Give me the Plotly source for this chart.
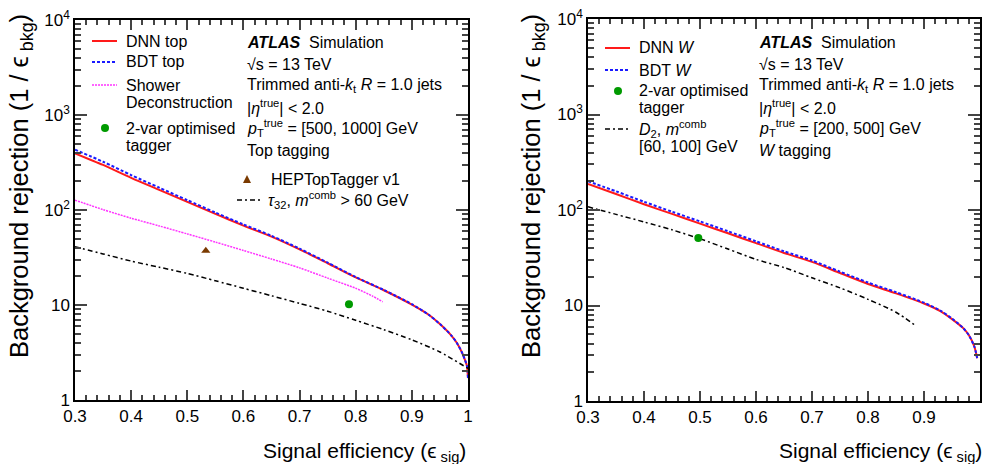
import plotly.graph_objects as go

# ---------------- data ----------------
eff_top = [0.30, 0.35, 0.40, 0.45, 0.50, 0.55, 0.60, 0.65, 0.70, 0.75, 0.80, 0.85,
           0.90, 0.93, 0.95, 0.97, 0.98, 0.99, 0.995, 0.998, 1.0]
dnn_top = [395, 298, 218, 163, 122, 91, 68.5, 52.5, 38.5, 27.5, 19.5, 14.3,
           10.1, 7.9, 6.3, 4.8, 4.0, 3.1, 2.6, 2.3, 1.7]
bdt_top = [432, 322, 233, 172, 127, 94, 70.5, 53.5, 39.2, 27.9, 19.7, 14.4,
           10.2, 7.9, 6.3, 4.8, 4.0, 3.1, 2.6, 2.3, 1.7]

eff_sd = [0.30, 0.35, 0.40, 0.45, 0.50, 0.55, 0.60, 0.65, 0.70, 0.75, 0.80, 0.83, 0.848]
sd_top = [127, 101, 82, 68, 56, 46, 37.5, 30.5, 24.6, 19.2, 15.0, 12.4, 10.8]

eff_tau = [0.30, 0.35, 0.40, 0.45, 0.50, 0.55, 0.60, 0.65, 0.70, 0.75, 0.80, 0.85, 0.90, 0.95, 1.0]
tau_top = [41, 34.5, 29, 25, 21.5, 18, 15, 12.5, 10.4, 8.6, 6.9, 5.5, 4.3, 3.2, 2.15]

hep_eff = [0.533]
hep_rej = [37.3]
opt_top_eff = [0.788]
opt_top_rej = [10.2]

eff_w = [0.30, 0.35, 0.40, 0.45, 0.50, 0.55, 0.60, 0.65, 0.70, 0.75, 0.80, 0.85,
         0.90, 0.93, 0.95, 0.97, 0.98, 0.99, 0.995]
dnn_w = [187, 147, 115, 91, 72, 57, 45, 35.5, 28.6, 21.9, 16.8, 13.4,
         10.5, 8.7, 7.2, 5.8, 4.9, 3.7, 2.8]
bdt_w = [200, 157, 122, 96, 76, 60, 47, 37, 29.6, 22.6, 17.4, 13.8,
         10.7, 8.8, 7.3, 5.8, 4.9, 3.7, 2.8]

eff_d2 = [0.30, 0.35, 0.40, 0.45, 0.50, 0.55, 0.60, 0.65, 0.70, 0.75, 0.80, 0.85, 0.886]
d2_w = [108, 90, 75, 62, 50, 39, 30.4, 25, 19.5, 15.3, 11.6, 8.5, 6.1]

opt_w_eff = [0.497]
opt_w_rej = [51]

x_major = [0.3, 0.4, 0.5, 0.6, 0.7, 0.8, 0.9, 1.0]
x_labels = ["0.3", "0.4", "0.5", "0.6", "0.7", "0.8", "0.9", "1"]
y_major = [1, 10, 100, 1000, 10000]
y_labels = ["1", "10", "10<sup>2</sup>", "10<sup>3</sup>", "10<sup>4</sup>"]

# ---------------- styling ----------------
FONT = "Liberation Sans, Arial, Helvetica, sans-serif"
W, H = 984, 464
RED = "#ff1a1a"
BLUE = "#1a1aff"
MAG = "#ff33ff"
GREEN = "#009a00"
BROWN = "#7a3a00"
TICKC = "#444444"
BDT_DASH = "3px,2px"
SD_DASH = "2px,1px"
DD_DASH = "5px,3px,2px,3px"

x_minor = [round(0.3 + 0.02 * i, 2) for i in range(36)]
y_minor = [m * 10 ** d for d in range(4) for m in range(2, 10)]

fig = go.Figure()
SM = 0.7

fig.add_trace(go.Scatter(x=eff_top, y=dnn_top, mode="lines", name="DNN top",
                         line=dict(color=RED, width=2, shape="spline", smoothing=SM),
                         xaxis="x", yaxis="y"))
fig.add_trace(go.Scatter(x=eff_top, y=bdt_top, mode="lines", name="BDT top",
                         line=dict(color=BLUE, width=2, dash=BDT_DASH, shape="spline", smoothing=SM),
                         xaxis="x", yaxis="y"))
fig.add_trace(go.Scatter(x=eff_sd, y=sd_top, mode="lines", name="Shower Deconstruction",
                         line=dict(color=MAG, width=1.5, dash=SD_DASH, shape="spline", smoothing=SM),
                         xaxis="x", yaxis="y"))
fig.add_trace(go.Scatter(x=eff_tau, y=tau_top, mode="lines", name="tau32",
                         line=dict(color="black", width=1.5, dash=DD_DASH, shape="spline", smoothing=SM),
                         xaxis="x", yaxis="y"))
fig.add_trace(go.Scatter(x=opt_top_eff, y=opt_top_rej, mode="markers", name="2-var optimised tagger",
                         marker=dict(color=GREEN, size=8, symbol="circle"), xaxis="x", yaxis="y"))
fig.add_trace(go.Scatter(x=hep_eff, y=hep_rej, mode="markers", name="HEPTopTagger v1",
                         marker=dict(color=BROWN, size=8, symbol="triangle-up"), xaxis="x", yaxis="y"))

fig.add_trace(go.Scatter(x=eff_w, y=dnn_w, mode="lines", name="DNN W",
                         line=dict(color=RED, width=2, shape="spline", smoothing=SM),
                         xaxis="x2", yaxis="y2"))
fig.add_trace(go.Scatter(x=eff_w, y=bdt_w, mode="lines", name="BDT W",
                         line=dict(color=BLUE, width=2, dash=BDT_DASH, shape="spline", smoothing=SM),
                         xaxis="x2", yaxis="y2"))
fig.add_trace(go.Scatter(x=eff_d2, y=d2_w, mode="lines", name="D2",
                         line=dict(color="black", width=1.5, dash=DD_DASH, shape="spline", smoothing=SM),
                         xaxis="x2", yaxis="y2"))
fig.add_trace(go.Scatter(x=opt_w_eff, y=opt_w_rej, mode="markers", name="2-var optimised tagger",
                         marker=dict(color=GREEN, size=8, symbol="circle"), xaxis="x2", yaxis="y2"))

TICKFONT = dict(family=FONT, size=17, color="black")


def xax(domain, anchor):
    return dict(domain=domain, anchor=anchor, range=[0.3, 1.0], tickmode="array",
                tickvals=x_major, ticktext=x_labels, ticks="inside", ticklen=10, tickwidth=1.5,
                tickcolor=TICKC, showline=True, linecolor="black", linewidth=1.5, mirror="ticks",
                showgrid=False, zeroline=False, tickfont=TICKFONT,
                minor=dict(tickmode="array", tickvals=x_minor, ticks="inside", ticklen=5,
                           tickwidth=1.5, tickcolor=TICKC, showgrid=False))


def yax(domain, anchor):
    return dict(domain=domain, anchor=anchor, type="log", range=[0, 4], tickmode="array",
                tickvals=y_major, ticktext=y_labels, ticks="inside", ticklen=12, tickwidth=1.5,
                tickcolor=TICKC, showline=True, linecolor="black", linewidth=1.5, mirror="ticks",
                showgrid=False, zeroline=False, tickfont=TICKFONT,
                minor=dict(tickmode="array", tickvals=y_minor, ticks="inside", ticklen=6,
                           tickwidth=1.5, tickcolor=TICKC, showgrid=False))


annotations = []
shapes = []


def text_at(x, y, t, size=16):
    annotations.append(dict(x=x / W, y=1 - y / H, xref="paper", yref="paper", text=t,
                            showarrow=False, xanchor="left", yanchor="middle",
                            font=dict(family=FONT, size=size, color="black")))


def legend_line(x0, x1, y, color, width, dash):
    ln = dict(color=color, width=width)
    if dash:
        ln["dash"] = dash
    shapes.append(dict(type="line", xref="paper", yref="paper", x0=x0 / W, x1=x1 / W,
                       y0=1 - y / H, y1=1 - y / H, line=ln))


def legend_dot(x, y, color, r=4):
    shapes.append(dict(type="circle", xref="paper", yref="paper", x0=(x - r) / W, x1=(x + r) / W,
                       y0=1 - (y + r) / H, y1=1 - (y - r) / H, fillcolor=color, line=dict(width=0)))


def legend_tri(x, y, color, s=4):
    p = "M {:.5f},{:.5f} L {:.5f},{:.5f} L {:.5f},{:.5f} Z".format(
        (x - s) / W, 1 - (y + s) / H, (x + s) / W, 1 - (y + s) / H, x / W, 1 - (y - s) / H)
    shapes.append(dict(type="path", xref="paper", yref="paper", path=p, fillcolor=color,
                       line=dict(width=0)))


# left legend
legend_line(92, 117, 41, RED, 2, None)
text_at(124, 41, "DNN top")
legend_line(92, 117, 62, BLUE, 2, BDT_DASH)
text_at(124, 62, "BDT top")
legend_line(92, 117, 85, MAG, 1.5, SD_DASH)
text_at(124, 85, "Shower")
text_at(124, 102, "Deconstruction")
legend_dot(105, 128, GREEN)
text_at(124, 128, "2-var optimised")
text_at(124, 145, "tagger")
legend_tri(247, 179, BROWN)
text_at(269, 179, "HEPTopTagger v1")
legend_line(237, 261, 200, "black", 1.5, DD_DASH)
text_at(266, 200, "<i>τ</i><sub>32</sub>, <i>m</i><sup>comb</sup> > 60 GeV")

# right legend
legend_line(605, 630, 48, RED, 2, None)
text_at(637, 48, "DNN <i>W</i>")
legend_line(605, 630, 70, BLUE, 2, BDT_DASH)
text_at(637, 70, "BDT <i>W</i>")
legend_dot(618, 91, GREEN)
text_at(637, 91, "2-var optimised")
text_at(637, 108, "tagger")
legend_line(605, 630, 129, "black", 1.5, DD_DASH)
text_at(637, 129, "<i>D</i><sub>2</sub>, <i>m</i><sup>comb</sup>")
text_at(637, 146, "[60, 100] GeV")

# ATLAS blocks
common_lines = ["<b><i>ATLAS</i></b>  Simulation",
                "√s = 13 TeV",
                "Trimmed anti-<i>k</i><sub>t</sub> <i>R</i> = 1.0 jets",
                "|<i>η</i><sup>true</sup>| < 2.0"]
for t, y in zip(common_lines + ["<i>p</i><sub>T</sub><sup>true</sup> = [500, 1000] GeV", "Top tagging"],
                [43, 64, 86, 107, 128, 150]):
    text_at(245, y, t)
for t, y in zip(common_lines + ["<i>p</i><sub>T</sub><sup>true</sup> = [200, 500] GeV", "<i>W</i> tagging"],
                [43, 64, 86, 107, 128, 150]):
    text_at(757, y, t)

# axis titles (ROOT style, aligned at axis ends)
for xr in (468, 984):
    annotations.append(dict(x=xr / W, y=1 - 452 / H, xref="paper", yref="paper",
                            text="Signal efficiency (ϵ<sub> sig</sub>)", showarrow=False,
                            xanchor="right", yanchor="middle",
                            font=dict(family=FONT, size=21, color="black")))
for xc in (21, 533):
    annotations.append(dict(x=xc / W, y=1 - 12 / H, xref="paper", yref="paper",
                            text="Background rejection (1 / ϵ<sub> bkg</sub>)", showarrow=False,
                            textangle=-90, xanchor="center", yanchor="top",
                            font=dict(family=FONT, size=25.5, color="black")))

fig.update_layout(
    width=W, height=H, margin=dict(l=0, r=0, t=0, b=0),
    paper_bgcolor="white", plot_bgcolor="white", template="none",
    xaxis=xax([75 / W, 468 / W], "y"),
    yaxis=yax([1 - 400 / H, 1 - 20 / H], "x"),
    xaxis2=xax([588 / W, 980 / W], "y2"),
    yaxis2=yax([1 - 401 / H, 1 - 19 / H], "x2"),
    annotations=annotations,
    shapes=shapes,
    showlegend=False,
)

fig.write_html("out.html")
